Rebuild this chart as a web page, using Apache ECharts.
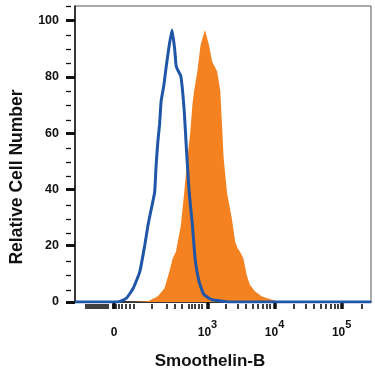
<!DOCTYPE html>
<html>
<head>
<meta charset="utf-8">
<script src="https://cdn.jsdelivr.net/npm/echarts@6.0.0/dist/echarts.min.js"></script>
<style>
  html, body { margin: 0; padding: 0; background: #fff; }
  #chart { width: 375px; height: 375px; }
</style>
</head>
<body>
<div id="chart"></div>
<script>
// x values are in display decades (10^3 -> 3, 10^4 -> 4, ...), biexponential zero at 1.606
const xMin = 1.025;
const xMax = 5.437;

// isotype control (blue outline)
const isotype = [
  [1.025, 0], [1.65, 0], [1.697, 0.2], [1.794, 1.4], [1.893, 4.9], [1.991, 10.8],
  [2.065, 20.2], [2.113, 27.3], [2.157, 32.5], [2.212, 39], [2.235, 49], [2.26, 57],
  [2.285, 63], [2.309, 71.4], [2.349, 77], [2.382, 83.2], [2.422, 90], [2.471, 96.7],
  [2.51, 90], [2.532, 84], [2.554, 82.6], [2.603, 80.2], [2.653, 67.9], [2.687, 53.8],
  [2.727, 39], [2.775, 27.3], [2.815, 15.5], [2.874, 7.3], [2.947, 2.6], [3.069, 0.8],
  [3.216, 0.3], [3.363, 0], [5.437, 0]
];

// Smoothelin-B stained (orange filled)
const stained = [
  [1.849, 0], [1.86, 0.2], [2.088, 0.3], [2.138, 0.5], [2.26, 2], [2.359, 4.9],
  [2.432, 10.8], [2.481, 15.5], [2.529, 17.9], [2.603, 27.3], [2.653, 39], [2.701, 51.4],
  [2.741, 59.7], [2.775, 70.2], [2.8, 75], [2.849, 82], [2.897, 91.4], [2.962, 96.7],
  [3.021, 91.4], [3.069, 85.5], [3.143, 82], [3.191, 75], [3.216, 63], [3.241, 51],
  [3.29, 39], [3.363, 29.6], [3.412, 21.4], [3.451, 19], [3.485, 17.9], [3.535, 15.5],
  [3.584, 9.6], [3.632, 6.1], [3.706, 3.8], [3.804, 2], [3.903, 1.2], [4.0, 0.5], [4.054, 0]
];

// axis ticks and labels
const xLabelPos = [1.606, 3, 4, 5];
const xLabelExp = [null, 3, 4, 5];
const xMinorTicks = [
  1.246, 1.275, 1.304, 1.334, 1.363, 1.393, 1.422, 1.451, 1.481, 1.51, 1.54, 1.569,
  1.643, 1.687, 1.731, 1.775, 1.834, 1.893, 1.951,
  2.212, 2.433, 2.555, 2.654, 2.751, 2.801, 2.849, 2.898, 2.947
];
for (let d = 3; d <= 5; d++) {
  for (let k = 2; k <= 9; k++) {
    const v = d + Math.log10(k);
    if (v < xMax) xMinorTicks.push(v);
  }
}
const yLabels = [0, 20, 40, 60, 80, 100];
const yMinorTicks = [5, 10, 15, 25, 30, 35, 45, 50, 55, 65, 70, 75, 85, 90, 95, 105];
const yMax = 105.2;

const font = '"Liberation Sans", Arial, sans-serif';
const ink = '#111';

const chart = echarts.init(document.getElementById('chart'), null, { renderer: 'canvas' });

const gridBox = { left: 71, right: 4, top: 6, bottom: 71 };

chart.setOption({
  animation: false,
  backgroundColor: '#fff',
  grid: [
    Object.assign({ show: true, borderColor: '#555', borderWidth: 1 }, gridBox),
    Object.assign({ show: false }, gridBox)
  ],
  xAxis: [
    {
      type: 'value',
      gridIndex: 0,
      min: xMin,
      max: xMax,
      splitLine: { show: false },
      axisLine: { show: true, onZero: false, lineStyle: { color: ink, width: 1.5 } },
      axisTick: { show: true, customValues: xLabelPos, length: 7, lineStyle: { color: ink, width: 3.5 } },
      axisLabel: {
        show: true,
        customValues: xLabelPos,
        margin: 17,
        formatter: function (v) {
          const i = xLabelPos.findIndex(p => Math.abs(p - v) < 1e-6);
          if (i < 0) return '';
          const e = xLabelExp[i];
          return e === null ? '{b|0}' : '{b|10}{s|' + e + '}';
        },
        rich: {
          b: { fontSize: 12, fontWeight: 'bold', fontFamily: font, color: ink, lineHeight: 20, verticalAlign: 'bottom' },
          s: { fontSize: 11, fontWeight: 'bold', fontFamily: font, color: ink, lineHeight: 20, verticalAlign: 'top' }
        }
      },
      name: 'Smoothelin-B',
      nameLocation: 'middle',
      nameGap: 51,
      nameTextStyle: { fontSize: 17, fontWeight: 'bold', fontFamily: font, color: ink, padding: [0, 26, 0, 0] }
    },
    {
      type: 'value',
      gridIndex: 1,
      min: xMin,
      max: xMax,
      splitLine: { show: false },
      axisLine: { show: false },
      axisLabel: { show: false },
      axisTick: { show: true, customValues: xMinorTicks, length: 5, lineStyle: { color: ink, width: 1.6 } }
    }
  ],
  yAxis: [
    {
      type: 'value',
      gridIndex: 0,
      min: 0,
      max: yMax,
      splitLine: { show: false },
      axisLine: { show: true, onZero: false, lineStyle: { color: ink, width: 1.5 } },
      axisTick: { show: true, customValues: yLabels, length: 9, lineStyle: { color: ink, width: 3 } },
      axisLabel: {
        show: true,
        customValues: yLabels,
        margin: 16,
        fontSize: 12.5,
        fontWeight: 'bold',
        fontFamily: font,
        color: ink
      },
      name: 'Relative Cell Number',
      nameLocation: 'middle',
      nameGap: 49,
      nameTextStyle: { fontSize: 17.5, fontWeight: 'bold', fontFamily: font, color: ink, padding: [0, 46, 0, 0] }
    },
    {
      type: 'value',
      gridIndex: 1,
      min: 0,
      max: yMax,
      splitLine: { show: false },
      axisLine: { show: false },
      axisLabel: { show: false },
      axisTick: { show: true, customValues: yMinorTicks, length: 5, lineStyle: { color: ink, width: 1.3 } }
    }
  ],
  series: [
    {
      name: 'Smoothelin-B',
      type: 'line',
      xAxisIndex: 0,
      yAxisIndex: 0,
      data: stained,
      symbol: 'none',
      lineStyle: { width: 0 },
      areaStyle: { color: '#F58220', opacity: 1 },
      z: 2
    },
    {
      name: 'Isotype',
      type: 'line',
      xAxisIndex: 0,
      yAxisIndex: 0,
      data: isotype,
      symbol: 'none',
      smooth: 0.15,
      lineStyle: { color: '#1F56A8', width: 3 },
      z: 3
    }
  ]
});
</script>
</body>
</html>
